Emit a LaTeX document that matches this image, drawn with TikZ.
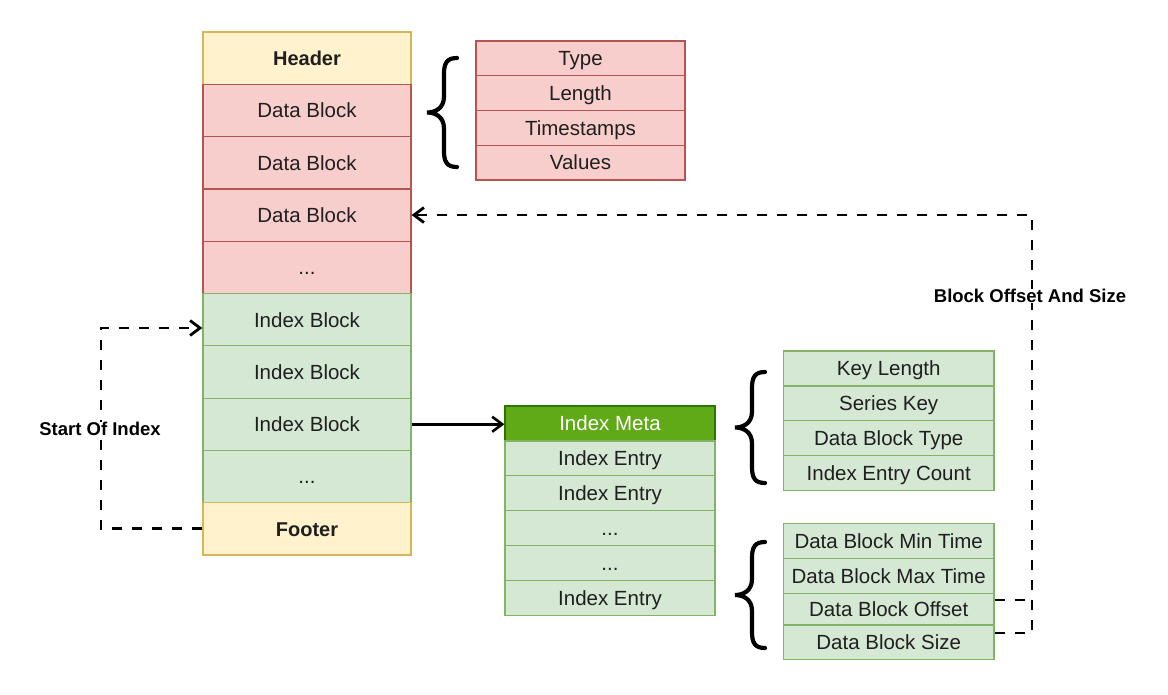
\documentclass[tikz,border=0pt]{standalone}
\usepackage{fontspec}
\setmainfont{Liberation Sans}
\usetikzlibrary{arrows.meta}
\definecolor{redF}{HTML}{F8CECC}
\definecolor{redD}{HTML}{B85450}
\definecolor{yelF}{HTML}{FFF2CC}
\definecolor{yelD}{HTML}{D6B656}
\definecolor{grnF}{HTML}{D5E8D4}
\definecolor{grnD}{HTML}{82B366}
\definecolor{metaF}{HTML}{60A917}
\definecolor{metaD}{HTML}{2D7600}
\newcommand{\mybrace}[3]{%
 \draw[line width=4.2pt, line cap=round] ({#1+30},#2) .. controls ({#1+20},#2) and ({#1+17},{#2+5}) .. ({#1+17},{#2+16}) -- ({#1+17},{(#2+#3)/2-16}) .. controls ({#1+17},{(#2+#3)/2-4}) and ({#1+8},{(#2+#3)/2}) .. (#1,{(#2+#3)/2}) .. controls ({#1+8},{(#2+#3)/2}) and ({#1+17},{(#2+#3)/2+4}) .. ({#1+17},{(#2+#3)/2+16}) -- ({#1+17},{#3-16}) .. controls ({#1+17},{#3-5}) and ({#1+20},#3) .. ({#1+30},#3);}
\tikzset{
 box/.style={draw, line width=1.2pt, inner sep=0pt, text height=14.7pt, text depth=0pt, text=black!88, font=\fontsize{20.5}{24}\selectfont},
 redc/.style={box, fill=redF, draw=redD},
 yelc/.style={box, fill=yelF, draw=yelD, font=\fontsize{20}{24}\selectfont\bfseries},
 grnc/.style={box, fill=grnF, draw=grnD},
 metac/.style={box, fill=metaF, draw=metaD, text=white},
 mainc/.style={minimum width=208pt, minimum height=52.3pt},
 typec/.style={minimum width=209pt, minimum height=34.75pt},
 metarow/.style={minimum width=210pt, minimum height=34.9pt},
 keyc/.style={minimum width=210.7pt, minimum height=34.9pt},
 lbl/.style={font=\fontsize{18.5}{22}\selectfont\bfseries, fill=white, inner sep=0.5pt},
 dashconn/.style={line width=2.8pt, dash pattern=on 10pt off 10pt},
 arr/.style={-{Straight Barb[length=10pt,width=15pt]}}
}
\begin{document}
\begin{tikzpicture}[x=1pt,y=-1pt]
\useasboundingbox (0,0) rectangle (1168,694);
% main stack
\node[yelc, mainc] (header) at (307,58.15) {Header};
\node[redc, mainc] (d1) at (307,110.45) {Data Block};
\node[redc, mainc] (d2) at (307,162.75) {Data Block};
\node[redc, mainc] (d3) at (307,215.05) {Data Block};
\node[redc, mainc] (d4) at (307,267.35) {...};
\node[grnc, mainc] (i1) at (307,319.65) {Index Block};
\node[grnc, mainc] (i2) at (307,371.95) {Index Block};
\node[grnc, mainc] (i3) at (307,424.25) {Index Block};
\node[grnc, mainc] (i4) at (307,476.55) {...};
\node[yelc, mainc] (footer) at (307,528.85) {Footer};
% data block fields
\node[redc, typec] (type) at (580.5,58.375) {Type};
\node[redc, typec] (len) at (580.5,93.125) {Length};
\node[redc, typec] (ts) at (580.5,127.875) {Timestamps};
\node[redc, typec] (vals) at (580.5,162.625) {Values};
% index meta
\node[metac, metarow] (meta) at (610,423.45) {Index Meta};
\node[grnc, metarow] (e1) at (610,458.35) {Index Entry};
\node[grnc, metarow] (e2) at (610,493.25) {Index Entry};
\node[grnc, metarow] (e3) at (610,528.15) {...};
\node[grnc, metarow] (e4) at (610,563.05) {...};
\node[grnc, metarow] (e5) at (610,597.95) {Index Entry};
% index meta fields
\node[grnc, keyc] (kl) at (888.7,368.45) {Key Length};
\node[grnc, keyc] (sk) at (888.7,403.35) {Series Key};
\node[grnc, keyc] (dbt) at (888.7,438.25) {Data Block Type};
\node[grnc, keyc] (iec) at (888.7,473.15) {Index Entry Count};
% index entry fields
\node[grnc, minimum width=210.7pt, minimum height=35pt] (mint) at (888.7,540.8) {Data Block Min Time};
\node[grnc, minimum width=210.7pt, minimum height=35pt] (maxt) at (888.7,575.8) {Data Block Max Time};
\node[grnc, minimum width=210.7pt, minimum height=31.7pt] (off) at (888.7,609.15) {Data Block Offset};
\node[grnc, minimum width=210.7pt, minimum height=34.3pt] (size) at (888.7,642.15) {Data Block Size};
% braces
\mybrace{427}{58}{167}
\mybrace{735}{372}{483}
\mybrace{735}{542}{648}
% connectors
\draw[line width=2.6pt, arr] (i3.east) -- (i3.east -| meta.west);
\draw[dashconn, arr] (footer.west) -- (101,528.85) -- (101,328) -- ([yshift=-8.35pt]i1.west);
\draw[dashconn] ([yshift=9.15pt]off.east) -- (1032,600);
\draw[dashconn, arr] ([yshift=9.15pt]size.east) -- (1032,633) -- (1032,215.05) -- (d3.east);
\node[lbl] (soi) at (100,429) {Start Of Index};
\node[lbl] (bos) at (1030,296) {Block Offset And Size};
\end{tikzpicture}
\end{document}
